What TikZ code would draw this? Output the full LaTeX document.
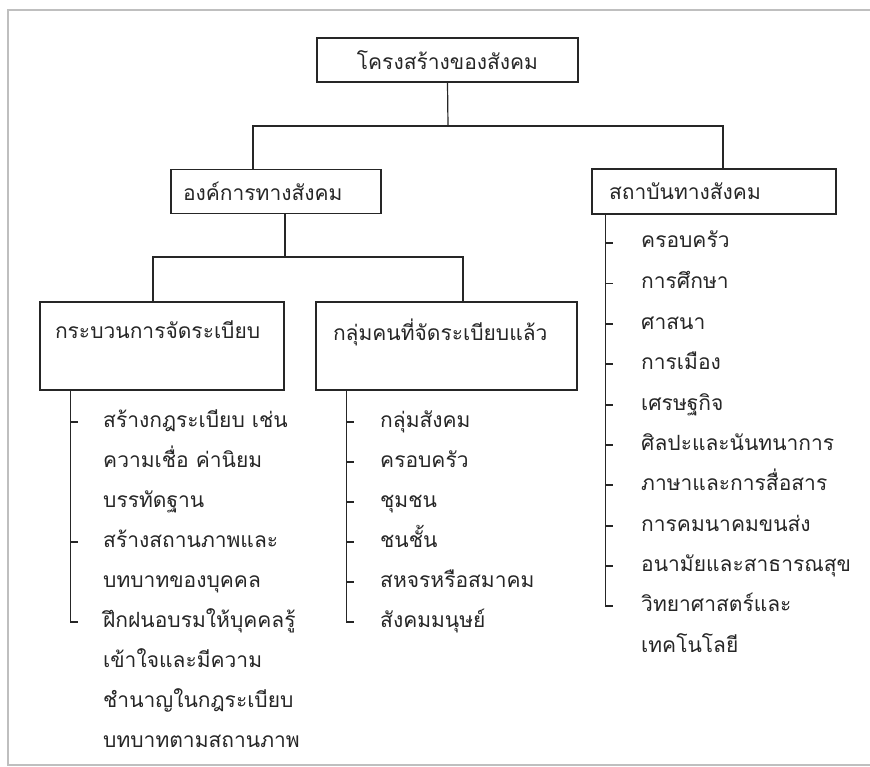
\documentclass[tikz,border=0pt]{standalone}
\usepackage{fontspec}
\newfontfamily\thaifont[Script=Thai]{Loma}
\begin{document}
\begin{tikzpicture}[x=1pt,y=-1pt]
        \tikzset{box/.style = {shape=rectangle,draw=black!85,line width=1.2pt,inner sep=0pt,text=black!85,font=\thaifont\fontsize{21}{40}\selectfont}}
        \tikzset{item/.style = {anchor=west,inner sep=0pt,text height=15.5pt,text depth=5.5pt,text=black!85,font=\thaifont\fontsize{21}{40}\selectfont}}
        \tikzset{edge/.style = {draw=black!85,line width=1.2pt}}
        \useasboundingbox (0,0) rectangle (870,767);
        % frame
        \draw[black!25,line width=1.6pt] (870,10) -- (8,10) -- (8,765) -- (870,765);
        % boxes
        \node[box,minimum width=261,minimum height=44] (root) at (447.5,60) {โครงสร้างของสังคม};
        \node[box,minimum width=210,minimum height=44,text width=186,align=left] (org) at (276,191.5) {องค์การทางสังคม};
        \node[box,minimum width=244,minimum height=45,text width=210,align=left] (inst) at (714,191.5) {สถาบันทางสังคม};
        \node[box,minimum width=244,minimum height=88,text width=214,align=left] (proc) at (162,346) {กระบวนการจัดระเบียบ\\[-8pt]~};
        \node[box,minimum width=261,minimum height=88,text width=227,align=left] (grp) at (446.5,346) {กลุ่มคนที่จัดระเบียบแล้ว\\[-8pt]~};
        % items
        \node[item] (p1) at (103,422) {สร้างกฎระเบียบ เช่น};
        \node[item] (p2) at (103,462) {ความเชื่อ ค่านิยม};
        \node[item] (p3) at (103,502) {บรรทัดฐาน};
        \node[item] (p4) at (103,542) {สร้างสถานภาพและ};
        \node[item] (p5) at (103,582) {บทบาทของบุคคล};
        \node[item] (p6) at (103,622) {ฝึกฝนอบรมให้บุคคลรู้};
        \node[item] (p7) at (103,662) {เข้าใจและมีความ};
        \node[item] (p8) at (103,702) {ชำนาญในกฎระเบียบ};
        \node[item] (p9) at (103,742) {บทบาทตามสถานภาพ};
        \node[item] (g1) at (380,422) {กลุ่มสังคม};
        \node[item] (g2) at (380,462) {ครอบครัว};
        \node[item] (g3) at (380,502) {ชุมชน};
        \node[item] (g4) at (380,542) {ชนชั้น};
        \node[item] (g5) at (380,582) {สหจรหรือสมาคม};
        \node[item] (g6) at (380,622) {สังคมมนุษย์};
        \node[item] (s1) at (641,243) {ครอบครัว};
        \node[item] (s2) at (641,283.5) {การศึกษา};
        \node[item] (s3) at (641,324) {ศาสนา};
        \node[item] (s4) at (641,364) {การเมือง};
        \node[item] (s5) at (641,405) {เศรษฐกิจ};
        \node[item] (s6) at (641,445) {ศิลปะและนันทนาการ};
        \node[item] (s7) at (641,485) {ภาษาและการสื่อสาร};
        \node[item] (s8) at (641,526) {การคมนาคมขนส่ง};
        \node[item] (s9) at (641,566) {อนามัยและสาธารณสุข};
        \node[item] (s10) at (641,606) {วิทยาศาสตร์และ};
        \node[item] (s11) at (641,647) {เทคโนโลยี};
        % joints
        \coordinate (rootbar) at (448,126);
        \coordinate (orgbar) at (285,257);
        \coordinate (ptop) at ([xshift=31pt]proc.south west);
        \coordinate (gtop) at ([xshift=31pt]grp.south west);
        \coordinate (stop) at ([xshift=14pt]inst.south west);
        % edges
        \draw[edge] (root.south) -- (rootbar);
        \draw[edge] ([xshift=-23pt]org.north) |- (rootbar) -| ([xshift=9pt]inst.north);
        \draw[edge] ([xshift=9pt]org.south) -- (orgbar);
        \draw[edge] ([xshift=-9pt]proc.north) |- (orgbar) -| ([xshift=16.5pt]grp.north);
        % lists
        \draw[edge] (ptop) |- ([xshift=-25pt]p6.west);
        \draw[edge] (ptop |- p1.west) -- ([xshift=-25pt]p1.west);
        \draw[edge] (ptop |- p4.west) -- ([xshift=-25pt]p4.west);
        \draw[edge] (gtop) |- ([xshift=-26pt]g6.west);
        \draw[edge] (gtop |- g1.west) -- ([xshift=-26pt]g1.west);
        \draw[edge] (gtop |- g2.west) -- ([xshift=-26pt]g2.west);
        \draw[edge] (gtop |- g3.west) -- ([xshift=-26pt]g3.west);
        \draw[edge] (gtop |- g4.west) -- ([xshift=-26pt]g4.west);
        \draw[edge] (gtop |- g5.west) -- ([xshift=-26pt]g5.west);
        \draw[edge] (stop) |- ([xshift=-28pt]s10.west);
        \draw[edge] (stop |- s1.west) -- ([xshift=-28pt]s1.west);
        \draw[edge] (stop |- s2.west) -- ([xshift=-28pt]s2.west);
        \draw[edge] (stop |- s3.west) -- ([xshift=-28pt]s3.west);
        \draw[edge] (stop |- s4.west) -- ([xshift=-28pt]s4.west);
        \draw[edge] (stop |- s5.west) -- ([xshift=-28pt]s5.west);
        \draw[edge] (stop |- s6.west) -- ([xshift=-28pt]s6.west);
        \draw[edge] (stop |- s7.west) -- ([xshift=-28pt]s7.west);
        \draw[edge] (stop |- s8.west) -- ([xshift=-28pt]s8.west);
        \draw[edge] (stop |- s9.west) -- ([xshift=-28pt]s9.west);
\end{tikzpicture}
\end{document}
